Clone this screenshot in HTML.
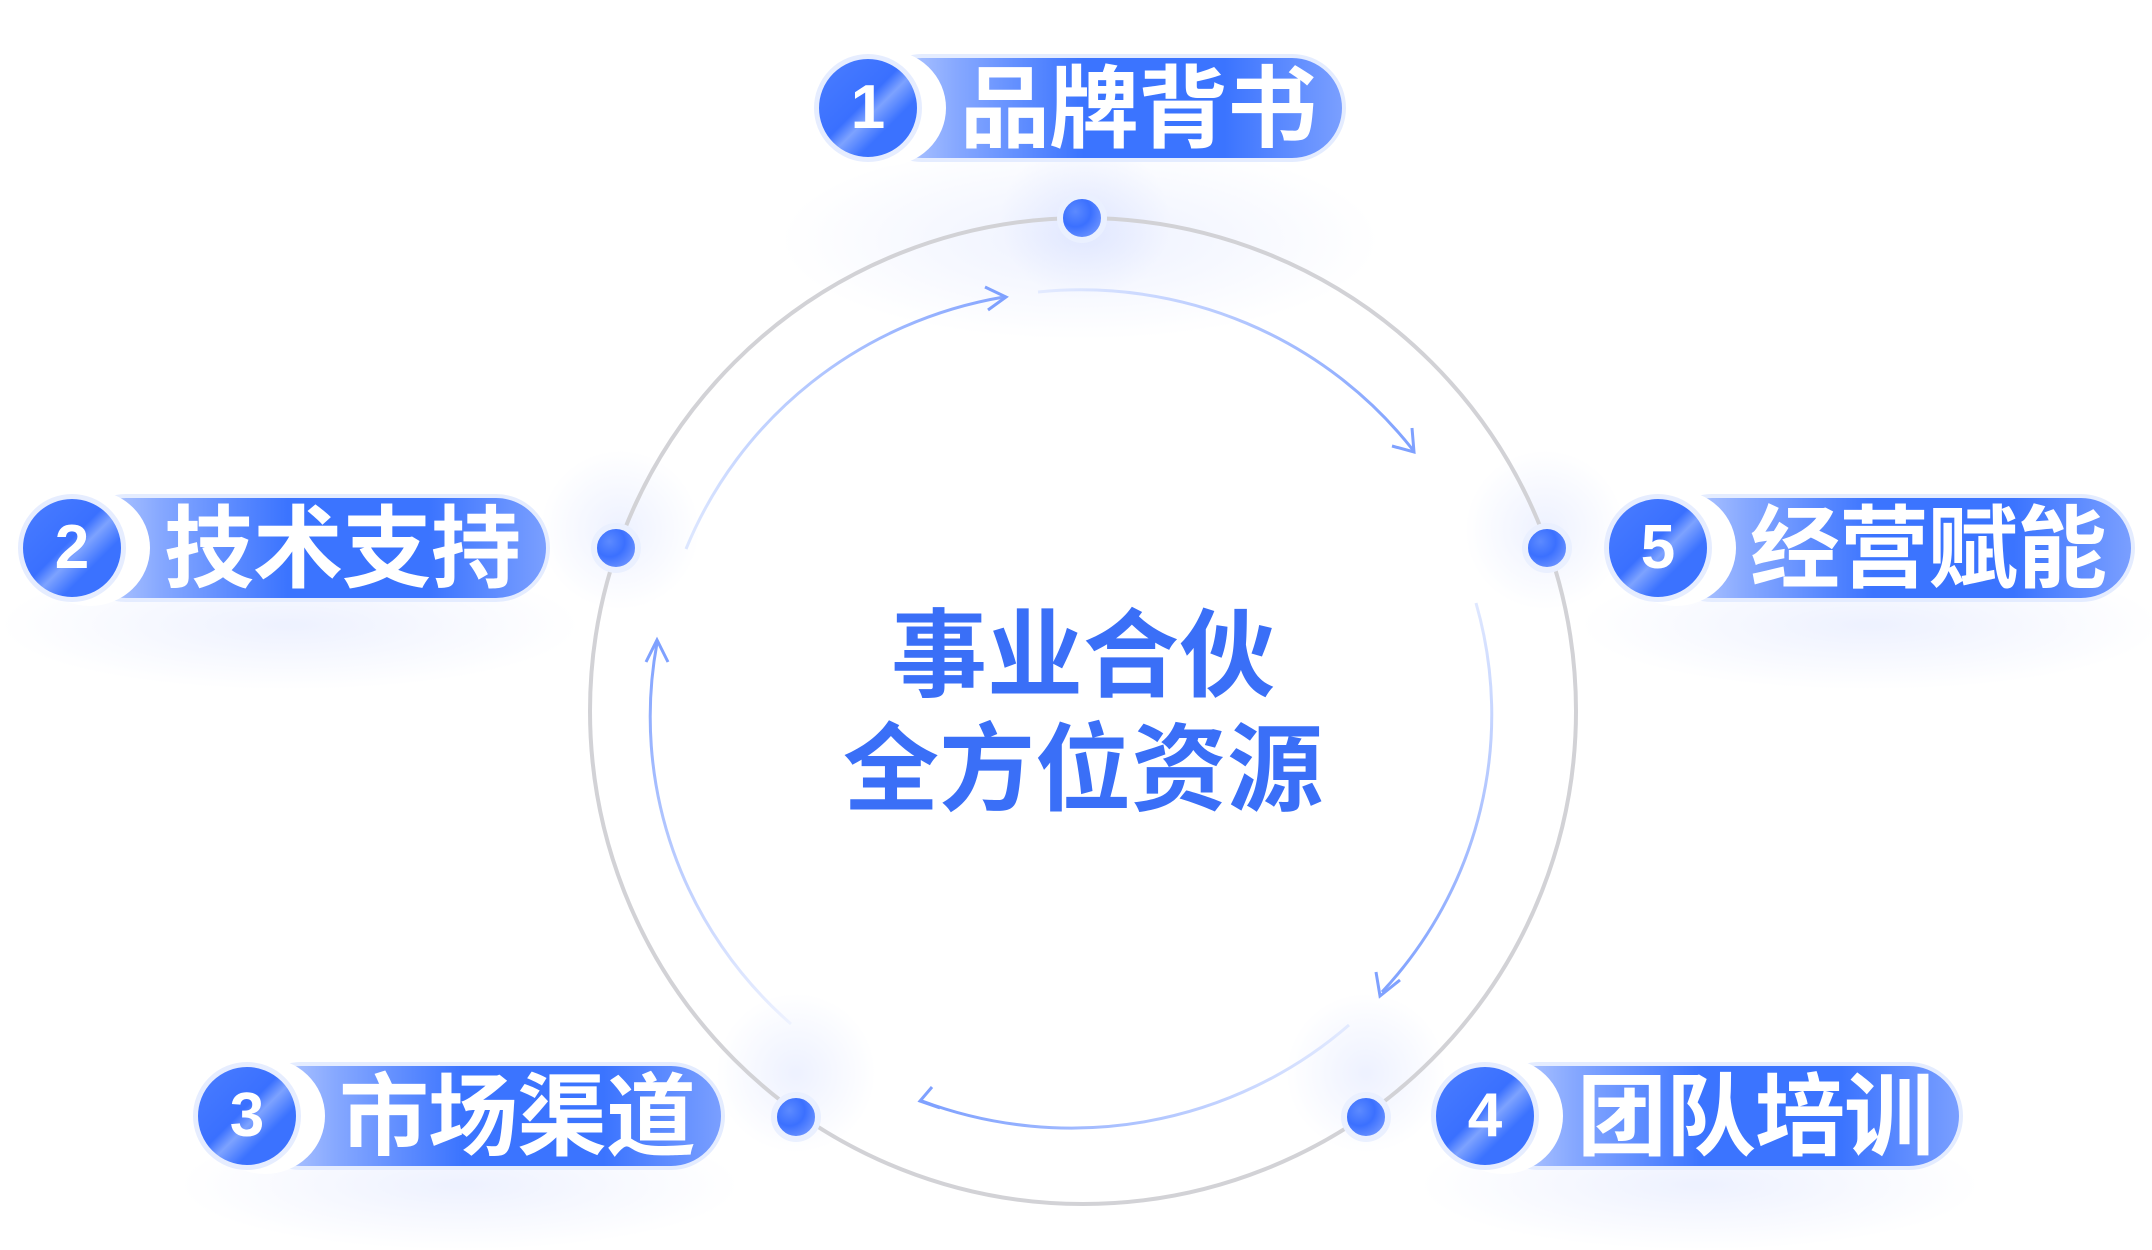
<!DOCTYPE html>
<html><head><meta charset="utf-8"><style>
html,body{margin:0;padding:0;background:#fff;}
body{width:2152px;height:1250px;position:relative;overflow:hidden;font-family:"Liberation Sans","Noto Sans CJK SC",sans-serif;}
.glow{position:absolute;border-radius:50%;background:radial-gradient(closest-side,rgba(120,150,255,0.13),rgba(120,150,255,0));}
.pill{position:absolute;height:108px;}
.bar{position:absolute;top:0;height:100px;border:4px solid #e4ecff;border-radius:58px;background:linear-gradient(90deg,#c6d6ff 0%,#86a8ff 18%,#3b74ff 45%,#3b74ff 75%,#7a9fff 100%);}
.wd{position:absolute;border-radius:50%;background:#fff;}
.num{position:absolute;border-radius:50%;border:5px solid #e6edff;background:linear-gradient(135deg,#4a7dff 0%,#3a70ff 45%,#7da2ff 55%,#3b72ff 70%);color:#fff;font-weight:bold;font-size:62px;text-align:center;box-sizing:border-box;}
.txt{position:absolute;color:#fff;font-weight:bold;font-size:90px;letter-spacing:-1px;font-family:"Liberation Sans","Noto Sans CJK SC",sans-serif;white-space:nowrap;}
.center{position:absolute;left:0;width:2166px;text-align:center;color:#3a6ff7;font-weight:bold;font-size:96px;line-height:114px;font-family:"Liberation Sans","Noto Sans CJK SC",sans-serif;}
</style></head><body>
<div class="glow" style="left:780px;top:140px;width:600px;height:200px"></div>
<div class="glow" style="left:0px;top:560px;width:580px;height:130px"></div>
<div class="glow" style="left:1580px;top:560px;width:580px;height:130px"></div>
<div class="glow" style="left:180px;top:1120px;width:560px;height:130px"></div>
<div class="glow" style="left:1420px;top:1120px;width:560px;height:130px"></div>
<div class="glow" style="left:1000px;top:140px;width:170px;height:160px"></div>
<div class="glow" style="left:540px;top:450px;width:160px;height:160px"></div>
<div class="glow" style="left:1465px;top:450px;width:160px;height:160px"></div>
<div class="glow" style="left:716px;top:993px;width:160px;height:160px"></div>
<div class="glow" style="left:1286px;top:993px;width:160px;height:160px"></div>

<svg width="2152" height="1250" style="position:absolute;left:0;top:0">
<defs>
<linearGradient id="gA" gradientUnits="userSpaceOnUse" x1="686" y1="529" x2="1004" y2="293"><stop offset="0" stop-color="#dce6ff"/><stop offset="1" stop-color="#86a6ff"/></linearGradient>
<linearGradient id="gB" gradientUnits="userSpaceOnUse" x1="1038" y1="288" x2="1413" y2="442"><stop offset="0" stop-color="#e4ebff"/><stop offset="1" stop-color="#7fa1ff"/></linearGradient>
<linearGradient id="gC" gradientUnits="userSpaceOnUse" x1="1476" y1="583" x2="1380" y2="990"><stop offset="0" stop-color="#e4ebff"/><stop offset="1" stop-color="#7fa1ff"/></linearGradient>
<linearGradient id="gD" gradientUnits="userSpaceOnUse" x1="1349" y1="988" x2="920" y2="1061"><stop offset="0" stop-color="#e4ebff"/><stop offset="1" stop-color="#7fa1ff"/></linearGradient>
<linearGradient id="gE" gradientUnits="userSpaceOnUse" x1="791" y1="1024" x2="657" y2="637"><stop offset="0" stop-color="#eef2ff"/><stop offset="1" stop-color="#7fa1ff"/></linearGradient>
<radialGradient id="dot" cx="0.35" cy="0.35" r="0.7"><stop offset="0" stop-color="#5c8aff"/><stop offset="0.5" stop-color="#3b70ff"/><stop offset="1" stop-color="#7096ff"/></radialGradient>
</defs>
<ellipse cx="1083" cy="711" rx="493" ry="493" fill="none" stroke="#d2d2d6" stroke-width="4"/>
<g fill="none" stroke-width="3">
<path d="M686 549 A419 411 0 0 1 1004 297" stroke="url(#gA)"/>
<path d="M1038 292 A419 411 0 0 1 1413 450" stroke="url(#gB)"/>
<path d="M1476 603 A419 411 0 0 1 1382 992" stroke="url(#gC)"/>
<path d="M1349 1025 A419 411 0 0 1 922 1101" stroke="url(#gD)"/>
<path d="M791 1024 A419 411 0 0 1 657 643" stroke="url(#gE)"/>
</g>
<g fill="none" stroke="#7fa1ff" stroke-width="3">
<path d="M985 287 L1006 297 L988 310"/>
<path d="M1412 428 L1414 452 L1392 446"/>
<path d="M1400 980 L1380 996 L1376 972"/>
<path d="M932 1087 L920 1101 L940 1108"/>
<path d="M646 662 L657 640 L668 662"/>
</g>
<g stroke="#eaf0ff" stroke-width="6" fill="url(#dot)">
<circle cx="1082" cy="218" r="22"/>
<circle cx="616" cy="548" r="22"/>
<circle cx="1547" cy="548" r="22"/>
<circle cx="796" cy="1117" r="22"/>
<circle cx="1366" cy="1117" r="22"/>
</g>
</svg>

<div class="pill" style="left:0;top:54px">
<div class="bar" style="left:868px;width:470px"></div>
<div class="wd" style="left:826px;top:-4px;width:120px;height:116px"></div>
<div class="num" style="left:814px;top:0px;width:108px;height:108px;line-height:98px">1</div>
<div class="txt" style="left:960px;top:2px;line-height:108px">品牌背书</div>
</div>
<div class="pill" style="left:0;top:494px">
<div class="bar" style="left:72px;width:470px"></div>
<div class="wd" style="left:30px;top:-4px;width:120px;height:116px"></div>
<div class="num" style="left:18px;top:0px;width:108px;height:108px;line-height:98px">2</div>
<div class="txt" style="left:164px;top:2px;line-height:108px">技术支持</div>
</div>
<div class="pill" style="left:0;top:494px">
<div class="bar" style="left:1658px;width:469px"></div>
<div class="wd" style="left:1616px;top:-4px;width:120px;height:116px"></div>
<div class="num" style="left:1604px;top:0px;width:108px;height:108px;line-height:98px">5</div>
<div class="txt" style="left:1750px;top:2px;line-height:108px">经营赋能</div>
</div>
<div class="pill" style="left:0;top:1062px">
<div class="bar" style="left:247px;width:470px"></div>
<div class="wd" style="left:205px;top:-4px;width:120px;height:116px"></div>
<div class="num" style="left:193px;top:0px;width:108px;height:108px;line-height:98px">3</div>
<div class="txt" style="left:339px;top:2px;line-height:108px">市场渠道</div>
</div>
<div class="pill" style="left:0;top:1062px">
<div class="bar" style="left:1485px;width:470px"></div>
<div class="wd" style="left:1443px;top:-4px;width:120px;height:116px"></div>
<div class="num" style="left:1431px;top:0px;width:108px;height:108px;line-height:98px">4</div>
<div class="txt" style="left:1577px;top:2px;line-height:108px">团队培训</div>
</div>

<div class="center" style="top:600px">事业合伙</div>
<div class="center" style="top:714px">全方位资源</div>
</body></html>
